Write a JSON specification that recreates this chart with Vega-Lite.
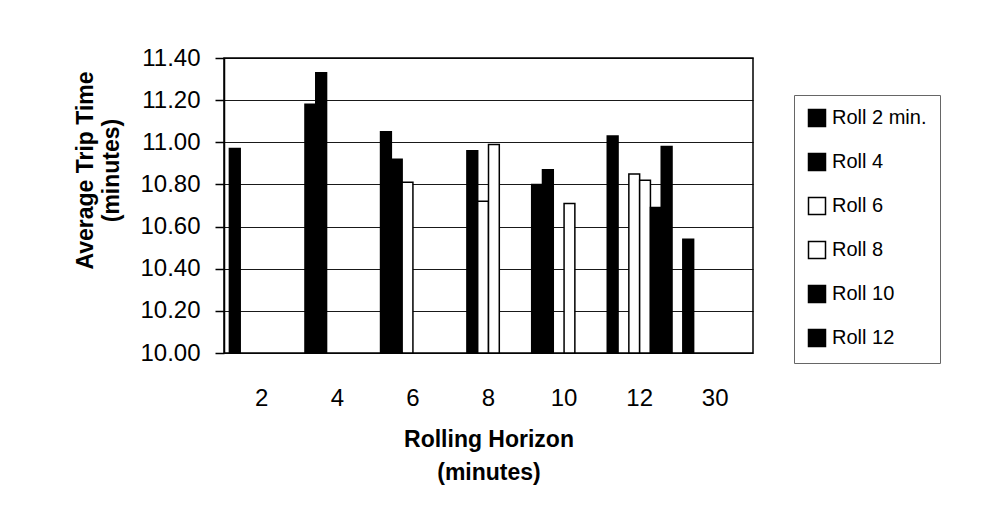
{
  "$schema": "https://vega.github.io/schema/vega-lite/v6.json",
  "width": 529,
  "height": 295,
  "autosize": "none",
  "padding": {"left": 224, "top": 58, "right": 255, "bottom": 167},
  "background": "white",
  "config": {
    "font": "Liberation Sans",
    "view": {"stroke": "black", "strokeWidth": 1.5}
  },
  "data": {
    "values": [
      {"horizon": "2", "roll": "Roll 2 min.", "time": 10.97},
      {"horizon": "4", "roll": "Roll 2 min.", "time": 11.18},
      {"horizon": "4", "roll": "Roll 4", "time": 11.33},
      {"horizon": "6", "roll": "Roll 2 min.", "time": 11.05},
      {"horizon": "6", "roll": "Roll 4", "time": 10.92},
      {"horizon": "6", "roll": "Roll 6", "time": 10.81},
      {"horizon": "8", "roll": "Roll 4", "time": 10.96},
      {"horizon": "8", "roll": "Roll 6", "time": 10.72},
      {"horizon": "8", "roll": "Roll 8", "time": 10.99},
      {"horizon": "10", "roll": "Roll 2 min.", "time": 10.80},
      {"horizon": "10", "roll": "Roll 4", "time": 10.87},
      {"horizon": "10", "roll": "Roll 8", "time": 10.71},
      {"horizon": "12", "roll": "Roll 2 min.", "time": 11.03},
      {"horizon": "12", "roll": "Roll 6", "time": 10.85},
      {"horizon": "12", "roll": "Roll 8", "time": 10.82},
      {"horizon": "12", "roll": "Roll 10", "time": 10.69},
      {"horizon": "12", "roll": "Roll 12", "time": 10.98},
      {"horizon": "30", "roll": "Roll 2 min.", "time": 10.54}
    ]
  },
  "mark": {"type": "bar", "stroke": "black", "strokeWidth": 1.5},
  "encoding": {
    "x": {
      "field": "horizon",
      "type": "ordinal",
      "scale": {"domain": ["2", "4", "6", "8", "10", "12", "30"], "paddingInner": 0.143, "paddingOuter": 0.0715},
      "axis": {
        "title": ["Rolling Horizon", "(minutes)"],
        "titleFontSize": 23,
        "titleFontWeight": "bold",
        "titleColor": "black",
        "titlePadding": 18,
        "titleLineHeight": 33,
        "labelFontSize": 24,
        "labelColor": "black",
        "labelAngle": 0,
        "labelPadding": 33,
        "ticks": false,
        "domain": false
      }
    },
    "xOffset": {
      "field": "roll",
      "type": "nominal",
      "scale": {"domain": ["Roll 2 min.", "Roll 4", "Roll 6", "Roll 8", "Roll 10", "Roll 12"], "paddingInner": 0, "paddingOuter": 0}
    },
    "y": {
      "field": "time",
      "type": "quantitative",
      "scale": {"domain": [10, 11.4], "zero": false, "nice": false},
      "axis": {
        "title": ["Average Trip Time", "(minutes)"],
        "titleFontSize": 23,
        "titleFontWeight": "bold",
        "titleColor": "black",
        "titlePadding": 16,
        "titleLineHeight": 26,
        "titleY": 112,
        "values": [10, 10.2, 10.4, 10.6, 10.8, 11, 11.2, 11.4],
        "format": ".2f",
        "labelFontSize": 24,
        "labelColor": "black",
        "labelPadding": 15,
        "tickSize": 9,
        "tickColor": "black",
        "tickWidth": 1.5,
        "domainColor": "black",
        "domainWidth": 1.5,
        "gridColor": "black",
        "gridWidth": 1,
        "gridOpacity": 0.9
      }
    },
    "y2": {"datum": 10},
    "fill": {
      "field": "roll",
      "type": "nominal",
      "scale": {
        "domain": ["Roll 2 min.", "Roll 4", "Roll 6", "Roll 8", "Roll 10", "Roll 12"],
        "range": ["black", "black", "white", "white", "black", "black"]
      },
      "legend": {
        "title": null,
        "orient": "none",
        "legendX": 570,
        "legendY": 37,
        "padding": 13,
        "rowPadding": 20,
        "strokeColor": "#666666",
        "symbolType": "square",
        "symbolSize": 289,
        "symbolStrokeColor": "black",
        "symbolStrokeWidth": 1.5,
        "symbolOpacity": 1,
        "labelFontSize": 20,
        "labelColor": "black",
        "labelOffset": 5
      }
    }
  }
}
